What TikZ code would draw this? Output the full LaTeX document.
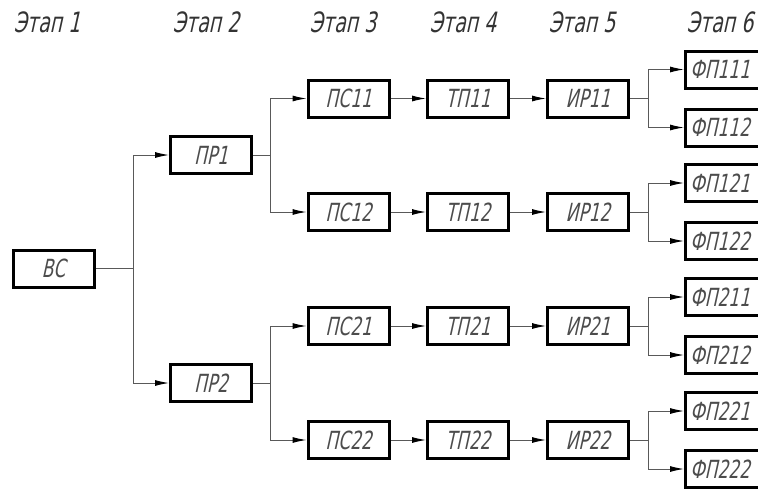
\documentclass[tikz,border=0pt]{standalone}
\usepackage{fontspec}
\setmainfont{DejaVu Sans}[FakeSlant=0.22, FakeStretch=0.68]
\usetikzlibrary{arrows.meta}
\begin{document}
\begin{tikzpicture}[x=1pt,y=-1pt,
  box/.style={draw=black,line width=3pt,minimum width=81pt,minimum height=37pt,inner sep=0pt,
    text=black!70,font=\fontsize{25}{25}\selectfont},
  fpbox/.style={box,text width=72pt,align=left},
  hdr/.style={inner sep=0pt,text=black!80,font=\fontsize{28}{28}\selectfont},
  link/.style={line width=1pt,draw=black!65},
  arr/.style={link,-{Latex[length=14pt,width=6pt,color=black]}}]
\useasboundingbox (0,0) rectangle (758,488);
% headers
\node[hdr] (h1) at (47,22) {Этап 1};
\node[hdr] (h2) at (206,22) {Этап 2};
\node[hdr] (h3) at (343,22) {Этап 3};
\node[hdr] (h4) at (463,22) {Этап 4};
\node[hdr] (h5) at (582,22) {Этап 5};
\node[hdr] (h6) at (720,22) {Этап 6};
% stage 1 and 2
\node[box] (vs) at (53.5,268.5) {ВС};
\node[box] (pr1) at (211,155) {ПР1};
\node[box] (pr2) at (211,383) {ПР2};
\coordinate (j0) at (133,268.5);
\draw[link] (vs.east) -- (j0);
\draw[arr] (j0) |- (pr1.west);
\draw[arr] (j0) |- (pr2.west);
\coordinate (j1) at (270,155);
\coordinate (j2) at (270,383);
\draw[link] (pr1.east) -- (j1);
\draw[link] (pr2.east) -- (j2);
% rows
\foreach \r/\yy in {11/98.5,12/212,21/326,22/440} {
  \node[box] (ps\r) at (348.5,\yy) {ПС\r};
  \node[box] (tp\r) at (468,\yy) {ТП\r};
  \node[box] (ir\r) at (588,\yy) {ИР\r};
  \draw[arr] (ps\r) -- (tp\r);
  \draw[arr] (tp\r) -- (ir\r);
  \coordinate (k\r) at (648,\yy);
  \draw[link] (ir\r.east) -- (k\r);
  \node[fpbox] (fp\r1) at (726,\yy-29) {ФП\r1};
  \node[fpbox] (fp\r2) at (726,\yy+29) {ФП\r2};
  \draw[arr] (k\r) |- (fp\r1.west);
  \draw[arr] (k\r) |- (fp\r2.west);
}
\draw[arr] (j1) |- (ps11.west);
\draw[arr] (j1) |- (ps12.west);
\draw[arr] (j2) |- (ps21.west);
\draw[arr] (j2) |- (ps22.west);
\end{tikzpicture}
\end{document}
